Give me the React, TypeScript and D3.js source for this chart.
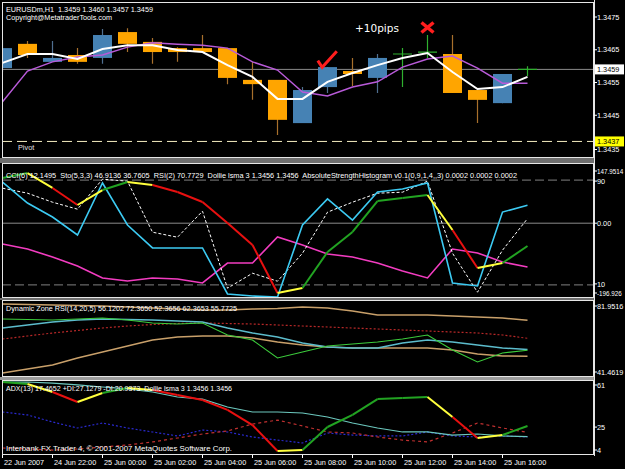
import React from 'react';
import * as d3 from 'd3';

// ---- values (EURUSD H1, 22 bars) ----
const timeLabels = ['22 Jun 2007', '24 Jun 22:00', '25 Jun 00:00', '25 Jun 02:00', '25 Jun 04:00', '25 Jun 06:00',
  '25 Jun 08:00', '25 Jun 10:00', '25 Jun 12:00', '25 Jun 14:00', '25 Jun 16:00'];
const labelBars = [0, 2, 4, 6, 8, 10, 12, 14, 16, 18, 20];

const opens = [1.34594, 1.34668, 1.34613, 1.34634, 1.34625, 1.34704, 1.34674, 1.34655, 1.34655, 1.34655, 1.34558,
  1.34558, 1.34426, 1.34536, 1.34585, 1.34564, 1.34637, 1.34643, 1.34637, 1.34527, 1.34487, 1.34590];
const highs = [1.34680, 1.34677, 1.34677, 1.34655, 1.34713, 1.34716, 1.34686, 1.34658, 1.34695, 1.34655, 1.34613,
  1.34558, 1.34536, 1.34597, 1.34625, 1.34637, 1.34655, 1.34695, 1.34695, 1.34527, 1.34576, 1.34600];
const lows = [1.34582, 1.34625, 1.34613, 1.34607, 1.34607, 1.34643, 1.34607, 1.34613, 1.34643, 1.34545, 1.34497,
  1.34390, 1.34426, 1.34518, 1.34539, 1.34518, 1.34536, 1.34625, 1.34518, 1.34426, 1.34487, 1.34570];
const closes = [1.34655, 1.34634, 1.34625, 1.34613, 1.34695, 1.34668, 1.34643, 1.34643, 1.34643, 1.34564, 1.34545,
  1.34436, 1.34527, 1.34597, 1.34576, 1.34625, 1.34637, 1.34643, 1.34518, 1.34497, 1.34576, 1.34590];

const maWhite = [1.34610, 1.34637, 1.34637, 1.34622, 1.34652, 1.34664, 1.34664, 1.34649, 1.34643, 1.34603, 1.34567,
  1.34500, 1.34500, 1.34552, 1.34579, 1.34603, 1.34625, 1.34640, 1.34582, 1.34530, 1.34536, 1.34567];
const maViolet = [1.34491, 1.34585, 1.34613, 1.34628, 1.34634, 1.34658, 1.34671, 1.34667, 1.34664, 1.34655, 1.34613,
  1.34588, 1.34521, 1.34509, 1.34536, 1.34552, 1.34597, 1.34622, 1.34631, 1.34594, 1.34548, 1.34548];

const priceTicks = [1.3475, 1.3465, 1.3455, 1.3445, 1.3435];
const lastPrice = 1.3459;
const pivot = 1.3437;

// window 2
const cci = [92.2, 79.0, 55.3, 36.9, 115.9, 110.6, -23.7, -36.9, 31.6, -171.1, -131.7, -152.7, -79.0, 29.0, 55.3,
  79.0, 81.6, 110.6, -79.0, -181.7, -71.1, 12.1];
const rsi = [88.5, 72.5, 61.8, 48.1, 87.8, 55.7, 38.2, 38.2, 38.2, 3.1, 1.5, 0.8, 55.7, 75.6, 59.5, 80.9, 83.2, 87.8,
  11.5, 9.2, 65.6, 70.8];
const sto = [41.2, 37.4, 31.3, 24.4, 15.3, 13.0, 15.3, 14.5, 11.5, 26.7, 26.7, 46.6, 40.5, 33.6, 31.3, 26.7, 20.6,
  15.3, 37.4, 34.4, 27.5, 23.7];
const lsmaOsc = [91.6, 95.4, 84.0, 71.0, 82.4, 88.5, 86.3, 80.9, 73.3, 57.3, 40.5, 3.8, 7.6, 35.1, 50.4, 74.0, 76.3,
  78.6, 51.9, 22.9, 26.7, 39.7];
// colour of each segment: g = up, y = turning, r = down
const lsmaColors = ['g', 'y', 'r', 'y', 'g', 'y', 'r', 'r', 'r', 'r', 'r', 'y', 'g', 'g', 'g', 'g', 'g', 'y', 'r', 'y', 'g'];

// window 3 (dynamic zone rsi)
const dzUpper = [81.40, 81.12, 80.84, 80.56, 80.29, 79.73, 79.18, 78.62, 78.07, 78.07, 78.62, 78.90, 79.73, 79.18,
  77.51, 75.30, 75.30, 75.30, 74.74, 74.19, 73.63, 72.37];
const dzMid = [61.98, 63.65, 65.31, 66.70, 68.08, 69.19, 70.03, 70.58, 70.86, 70.58, 70.30, 69.75, 69.19, 68.64,
  68.08, 67.53, 66.98, 66.42, 65.87, 65.31, 64.20, 62.37];
const dzLower = [43.13, 45.34, 47.56, 51.45, 54.77, 58.10, 61.43, 63.09, 63.65, 63.65, 62.54, 60.32, 58.66, 57.55,
  56.99, 56.99, 56.99, 56.99, 55.88, 53.66, 52.55, 52.37];
const dzRsi = [68.08, 69.75, 71.41, 72.52, 73.08, 72.80, 72.52, 71.97, 71.41, 68.08, 65.31, 63.09, 59.77, 57.55,
  56.99, 56.99, 59.77, 61.43, 60.32, 58.66, 56.99, 56.12];
const dzSignal = [73.08, 72.80, 72.52, 73.08, 73.63, 72.52, 70.86, 70.30, 70.86, 64.20, 61.43, 51.45, 54.77, 58.10,
  59.21, 60.32, 61.98, 64.20, 55.88, 49.23, 54.22, 55.77];

// window 4 (adx)
const adx = [60.2, 60.2, 59.4, 57.9, 56.3, 54.8, 52.4, 48.5, 46.9, 40.7, 36.8, 36.8, 36.0, 32.9, 28.2, 24.3, 21.2,
  21.2, 18.8, 19.6, 18.1, 17.5];
const plusDi = [36.8, 34.5, 29.0, 24.3, 28.2, 24.3, 21.2, 18.1, 22.7, 21.2, 17.3, 14.9, 12.6, 20.4, 18.8, 18.1, 18.1,
  21.2, 18.1, 17.3, 18.1, 17.3];
const minusDi = [8.7, 7.9, 7.1, 7.9, 9.5, 11.0, 13.4, 16.5, 19.6, 22.0, 27.4, 30.5, 25.9, 21.2, 20.4, 17.3, 14.9,
  13.4, 20.4, 28.2, 24.3, 20.9];
const lsmaAdx = [60.2, 58.7, 52.4, 44.6, 51.6, 55.5, 54.0, 50.1, 46.2, 38.4, 26.6, 6.3, 7.1, 25.1, 34.5, 46.9, 47.7,
  48.5, 32.9, 16.5, 18.8, 25.9];

const FONT = 'Liberation Sans, Arial, sans-serif';
const segColor: Record<string, string> = { g: '#22a322', y: '#ffff3c', r: '#e81010' };

const W = 625;
const H = 469;
const X0 = 2;
const X1 = 594;
const panels = [
  { id: 'p1', top: 2, bottom: 158 },
  { id: 'p2', top: 163, bottom: 298 },
  { id: 'p3', top: 300, bottom: 377 },
  { id: 'p4', top: 380, bottom: 455 },
];

const App = () => {
  const bars = d3.range(opens.length);
  const x = d3.scaleLinear().domain([0, 21]).range([2.5, 527.5]);
  const yPrice = d3.scaleLinear().domain([1.3435, 1.3475]).range([148, 17]);
  const yOsc = d3.scaleLinear().domain([0, 100]).range([298, 167]);
  const yCci = d3.scaleLinear().domain([-196.926, 147.9514]).range([298, 167]);
  const yDz = d3.scaleLinear().domain([41.4619, 81.9516]).range([376, 303]);
  const yAdx = d3.scaleLinear().domain([4, 61]).range([454, 381]);

  const lineOf = (vals: number[], y: d3.ScaleLinear<number, number>) =>
    d3.line<number>().x((_, i) => x(i)).y(d => y(d))(vals) || '';

  const colored = (vals: number[], y: d3.ScaleLinear<number, number>, key: string) =>
    lsmaColors.map((c, i) => (
      <line key={key + i} x1={x(i)} y1={y(vals[i])} x2={x(i + 1)} y2={y(vals[i + 1])}
        stroke={segColor[c]} strokeWidth={2} />
    ));

  const txt = (s: string, tx: number, ty: number, extra: any = {}) => (
    <text x={tx} y={ty} fill="#ffffff" fontSize={7.3} fontFamily={FONT} style={{ whiteSpace: 'pre' }} {...extra}>{s}</text>
  );

  const axisLabel = (s: string, ty: number, key: string, extra: any = {}) => (
    <g key={key}>
      <line x1={X1} x2={X1 + 3} y1={ty} y2={ty} stroke="#ffffff" />
      {txt(s, 597, ty + 2.6, extra)}
    </g>
  );

  return (
    <svg width={W} height={H} style={{ position: 'absolute', left: 0, top: 0, background: '#000' }}>
      <rect x={0} y={0} width={W} height={H} fill="#000" />
      <defs>
        {panels.map(p => (
          <clipPath key={p.id} id={'clip-' + p.id}>
            <rect x={X0 + 0.5} y={p.top + 0.5} width={X1 - X0 - 1} height={p.bottom - p.top - 1} />
          </clipPath>
        ))}
      </defs>

      {/* splitters */}
      <rect x={0} y={158} width={X1 + 1} height={5} fill="#6e6e6e" />
      <rect x={0} y={298} width={X1 + 1} height={2} fill="#6e6e6e" />
      <rect x={0} y={377} width={X1 + 1} height={3} fill="#9a9a9a" />

      {/* main window */}
      <g clipPath="url(#clip-p1)">
        <line x1={X0} x2={X1} y1={yPrice(lastPrice)} y2={yPrice(lastPrice)} stroke="#8a8a8a" />
        <line x1={X0} x2={X1} y1={yPrice(pivot)} y2={yPrice(pivot)} stroke="#f4ecc0" strokeDasharray="10,5" />
        {bars.map(i => {
          const o = opens[i], c = closes[i];
          const cx = x(i);
          if (o === c) {
            return (
              <g key={'c' + i} stroke="#2fb02f" strokeWidth={1.2}>
                <line x1={cx} x2={cx} y1={yPrice(highs[i])} y2={yPrice(lows[i])} />
                <line x1={cx - 9.5} x2={cx + 9.5} y1={yPrice(o)} y2={yPrice(o)} />
              </g>
            );
          }
          const up = c > o;
          const yTop = yPrice(Math.max(o, c));
          const yBot = yPrice(Math.min(o, c));
          return (
            <g key={'c' + i}>
              <line x1={cx} x2={cx} y1={yPrice(highs[i])} y2={yPrice(lows[i])}
                stroke={up ? '#4f6f90' : '#a8702c'} strokeWidth={1.2} />
              <rect x={cx - 9.5} y={yTop} width={19} height={Math.max(1.5, yBot - yTop)}
                fill={up ? '#4682b4' : '#ffa500'} />
            </g>
          );
        })}
        <path d={lineOf(maViolet, yPrice)} fill="none" stroke="#b85ad8" strokeWidth={1.5} />
        <path d={lineOf(maWhite, yPrice)} fill="none" stroke="#ffffff" strokeWidth={2} />

        {/* annotations */}
        <path d={`M${x(13) - 9.7},${yPrice(1.3462) + 1} L${x(13) - 5.3},${yPrice(1.3462) + 7.7} L${x(13) + 9.3},${yPrice(1.3462) - 8.3}`}
          fill="none" stroke="#ff1e1e" strokeWidth={3} />
        <g stroke="#ff1e1e" strokeWidth={3.5}>
          <line x1={x(17) - 6} x2={x(17) + 6} y1={yPrice(1.34718) - 5} y2={yPrice(1.34718) + 5} />
          <line x1={x(17) - 6} x2={x(17) + 6} y1={yPrice(1.34718) + 5} y2={yPrice(1.34718) - 5} />
        </g>
        <text x={x(14.1)} y={yPrice(1.34704)} fill="#ffffff" fontSize={10.5} fontFamily="DejaVu Sans, sans-serif">+10pips</text>

        {txt('EURUSDm,H1  1.3459 1.3460 1.3457 1.3459', 6, 11.5, { textLength: 147, lengthAdjust: 'spacingAndGlyphs', fontSize: 7 })}
        {txt('Copyright@MetatraderTools.com', 6, 20, { textLength: 106, lengthAdjust: 'spacingAndGlyphs', fontSize: 7 })}
        {txt('Pivot', 18, 150, { fill: '#e0e0e0' })}
      </g>

      {/* window 2 */}
      <g clipPath="url(#clip-p2)">
        <line x1={X0} x2={X1} y1={yOsc(90)} y2={yOsc(90)} stroke="#808080" strokeDasharray="9,4" />
        <line x1={X0} x2={X1} y1={yCci(0)} y2={yCci(0)} stroke="#8a8a8a" />
        <line x1={X0} x2={X1} y1={yOsc(10)} y2={yOsc(10)} stroke="#808080" strokeDasharray="9,4" />
        <path d={lineOf(sto, yOsc)} fill="none" stroke="#f23cc0" strokeWidth={1.6} />
        <path d={lineOf(cci, yCci)} fill="none" stroke="#ffffff" strokeWidth={1} strokeDasharray="3,2" />
        <path d={lineOf(rsi, yOsc)} fill="none" stroke="#3ccaf2" strokeWidth={1.6} />
        {colored(lsmaOsc, yOsc, 'o')}
        {txt('CCI(6) 12.1495  Sto(5,3,3) 46.9136 36.7605  RSI(2) 70.7729  Dollie lsma 3 1.3456 1.3456  AbsoluteStrengthHistogram v0.1(0,9,1,4,,3) 0.0002 0.0002 0.0002',
          6, 178, { textLength: 511, lengthAdjust: 'spacingAndGlyphs' })}
      </g>

      {/* window 3 */}
      <g clipPath="url(#clip-p3)">
        <path d={lineOf(dzMid, yDz)} fill="none" stroke="#b82828" strokeWidth={1.2} strokeDasharray="2,2" />
        <path d={lineOf(dzUpper, yDz)} fill="none" stroke="#c9a06a" strokeWidth={1.5} />
        <path d={lineOf(dzLower, yDz)} fill="none" stroke="#c9a06a" strokeWidth={1.5} />
        <path d={lineOf(dzRsi, yDz)} fill="none" stroke="#5cbccc" strokeWidth={1.5} />
        <path d={lineOf(dzSignal, yDz)} fill="none" stroke="#3ccc3c" strokeWidth={1.1} />
        {txt('Dynamic Zone RSI(14,20,5) 56.1202 72.3650 52.3656 62.3653 55.7725', 6, 311,
          { textLength: 231, lengthAdjust: 'spacingAndGlyphs' })}
      </g>

      {/* window 4 */}
      <g clipPath="url(#clip-p4)">
        <path d={lineOf(plusDi, yAdx)} fill="none" stroke="#2a2ad0" strokeWidth={1.2} strokeDasharray="2,2" />
        <path d={lineOf(minusDi, yAdx)} fill="none" stroke="#c03030" strokeWidth={1.2} strokeDasharray="3,3" />
        <path d={lineOf(adx, yAdx)} fill="none" stroke="#6cc8be" strokeWidth={1.2} />
        {colored(lsmaAdx, yAdx, 'a')}
        {txt('ADX(13) 17.4652 +DI:27.1279 -DI:20.9373  Dollie lsma 3 1.3456 1.3456', 6, 391,
          { textLength: 226, lengthAdjust: 'spacingAndGlyphs' })}
        {txt('Interbank FX Trader 4, © 2001-2007 MetaQuotes Software Corp.', 6, 451,
          { textLength: 226, lengthAdjust: 'spacingAndGlyphs' })}
      </g>

      {/* frames */}
      {panels.map(p => (
        <rect key={'f' + p.id} x={X0 + 0.5} y={p.top + 0.5} width={X1 - X0 - 1} height={p.bottom - p.top - 1}
          fill="none" stroke="#e6e6e6" />
      ))}
      <line x1={X1 + 0.5} x2={X1 + 0.5} y1={0} y2={456} stroke="#e6e6e6" />

      {/* right axis */}
      {priceTicks.map((p, i) => axisLabel(p.toFixed(4), yPrice(p) + (p === 1.3435 ? 1.5 : 0), 'pt' + i))}
      <rect x={595} y={yPrice(lastPrice) - 5} width={29} height={10} fill="#ffffff" />
      {txt(lastPrice.toFixed(4), 597, yPrice(lastPrice) + 2.6, { fill: '#000000' })}
      <rect x={595} y={yPrice(pivot) - 5} width={29} height={10} fill="#ffff00" />
      {txt(pivot.toFixed(4), 597, yPrice(pivot) + 2.6, { fill: '#000000' })}

      {axisLabel('147.9514', yCci(147.9514) + 4, 'w2a', { fontSize: 6.3 })}
      {axisLabel('90', yOsc(90) + 1, 'w2b')}
      {axisLabel('0.00', yCci(0), 'w2c')}
      {axisLabel('10', yOsc(10) - 1, 'w2d')}
      {axisLabel('-196.926', yCci(-196.926) - 5, 'w2e', { fontSize: 6.3 })}

      {axisLabel('81.9516', yDz(81.9516) + 3, 'w3a')}
      {axisLabel('41.4619', yDz(41.4619) - 4, 'w3b')}

      {axisLabel('61', yAdx(61) + 4, 'w4a')}
      {axisLabel('25', yAdx(25), 'w4b')}
      {axisLabel('4', yAdx(4) - 4, 'w4c')}

      {/* time axis */}
      {labelBars.map((b, i) => (
        <g key={'t' + i}>
          <line x1={x(b)} x2={x(b)} y1={455} y2={458} stroke="#ffffff" />
          {txt(timeLabels[i], x(b) + 1.5, 465)}
        </g>
      ))}
    </svg>
  );
};

export default App;
